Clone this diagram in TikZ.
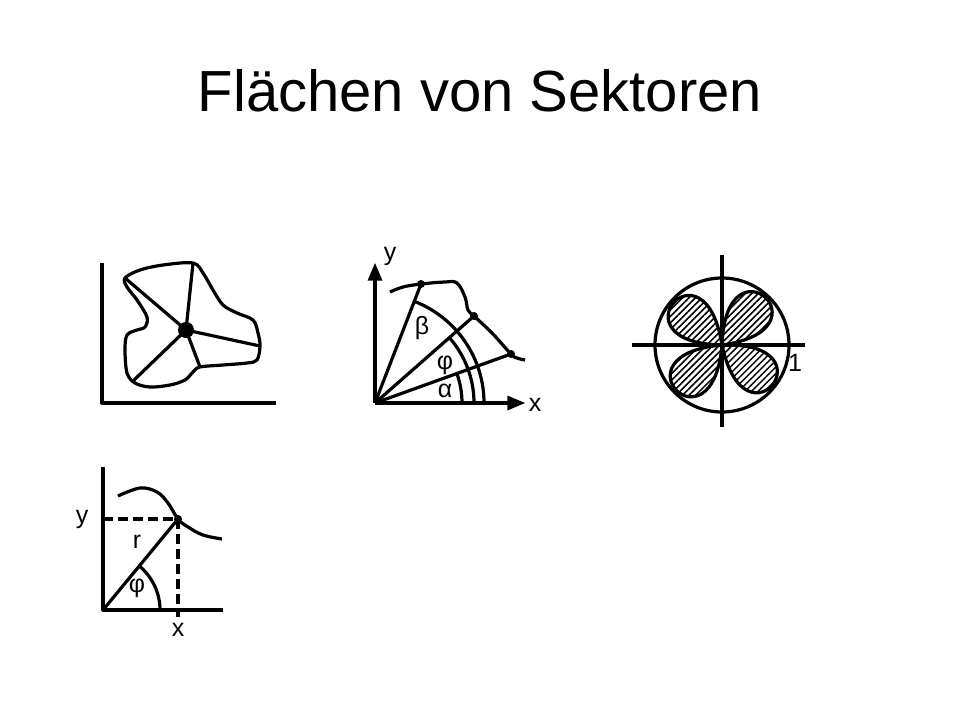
\documentclass[tikz,border=0pt]{standalone}
\usepackage{fontspec}
\setmainfont{Liberation Sans}
\usetikzlibrary{arrows,patterns.meta}
\tikzset{
    lbl/.style={font=\fontsize{25}{27}\selectfont,inner sep=0pt},%labels of the sketches
    hatched/.style={pattern={Lines[angle=45,distance=4.6pt,line width=1.5pt]}},
    helpline/.style={dash pattern=on 10pt off 5pt}
    }
\begin{document}
\begin{tikzpicture}[line join=round,>=triangle 45,x=1pt,y=-1pt,line width=3.2pt]
\useasboundingbox (0,0) rectangle (960,720);
\node[anchor=base,font=\fontsize{58}{60}\selectfont] (title) at (480,111) {Flächen von Sektoren};
% sketch 1: area with spokes
\coordinate (o1) at (102,403);
\coordinate (y1) at (102,263);
\coordinate (x1) at (276,403);
\draw (y1) -- (o1) -- (x1);
\draw plot[smooth cycle,tension=0.55] coordinates {(125,278) (140,270) (163,265) (193,263) (203,273) (213,290) (223,305) (237,313) (253,320) (258,333) (260,346) (257,360) (247,363) (223,365) (200,367) (193,372) (185,380) (170,385) (150,387) (135,383) (127,373) (125,350) (127,335) (137,330) (145,327) (147,317) (137,300) (127,287)};
\coordinate (m1) at (186,330);
\foreach \p in {(125,278),(193,263),(260,346),(200,367),(133,381)}
\draw (m1) -- \p;
\fill (m1) circle[radius=8];
% sketch 2: sector between alpha and beta
\coordinate (o2) at (375,403);
\coordinate (y2) at (375,263);
\coordinate (x2) at (525,403);
\coordinate (p1) at (421,284);
\coordinate (p2) at (474,316);
\coordinate (p3) at (511,354);
\draw[->] (o2) -- (y2);
\draw[->] (o2) -- (x2);
\draw plot[smooth,tension=0.6] coordinates {(390,292) (403,287) (p1) (445,282) (457,283) (465,297) (468,310) (p2) (492,333) (p3) (517,358) (525,360)};
\foreach \p in {p1,p2,p3}
{\draw (o2) -- (\p);
\fill (\p) circle[radius=4];}
\draw (o2) ++(109,0) arc[start angle=0,end angle=-68.9,radius=109];
\draw (o2) ++(99,0) arc[start angle=0,end angle=-41.3,radius=99];
\draw (o2) ++(87,0) arc[start angle=0,end angle=-19.8,radius=87];
\node[lbl] (ly2) at (390,256) {y};
\node[lbl] (lx2) at (535,405) {x};
\node[lbl] (lb2) at (422,328) {β};
\node[lbl] (lf2) at (445,365) {φ};
\node[lbl] (la2) at (445,391) {α};
% sketch 3: four-leaved rose
\coordinate (c3) at (722,345);
\coordinate (t3) at (722,255);
\coordinate (b3) at (722,427);
\coordinate (l3) at (632,345);
\coordinate (r3) at (805,345);
\foreach \a in {-139,-48,38,135}
\draw[hatched] (c3) .. controls +(\a-40:112) and +(\a+40:112) .. (c3);
\draw (c3) circle[radius=67];
\draw (t3) -- (b3);
\draw (l3) -- (r3);
\node[lbl] (l13) at (795,363) {1};
% sketch 4: polar coordinates
\coordinate (o4) at (103,610);
\coordinate (y4) at (103,467);
\coordinate (x4) at (223,610);
\coordinate (p4) at (178,519);
\coordinate (py4) at (103,519);
\coordinate (px4) at (178,617);
\draw (y4) -- (o4) -- (x4);
\draw plot[smooth,tension=0.6] coordinates {(118,496) (140,488) (157,492) (168,503) (p4) (188,527) (203,535) (222,539)};
\draw[helpline] (py4) -- (p4) -- (px4);
\draw (o4) -- (p4);
\fill (p4) circle[radius=4];
\draw (o4) ++(57,0) arc[start angle=0,end angle=-50.5,radius=57];
\node[lbl] (ly4) at (82,519) {y};
\node[lbl] (lr4) at (137,542) {r};
\node[lbl] (lf4) at (137,588) {φ};
\node[lbl] (lx4) at (178,630) {x};
\end{tikzpicture}
\end{document}
